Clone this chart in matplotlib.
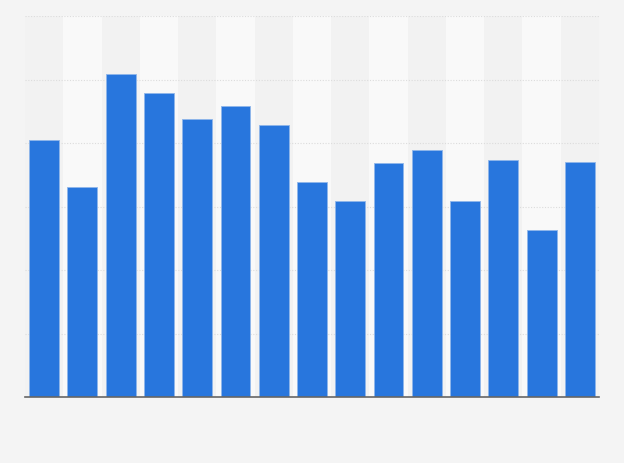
import matplotlib
matplotlib.use('Agg')
import matplotlib.pyplot as plt
import numpy as np

# bar heights (grid units, 6 gridlines)
values = [4.05, 3.31, 5.09, 4.78, 4.38, 4.58, 4.28, 3.39, 3.09, 3.69,
          3.89, 3.09, 3.73, 2.63, 3.70]
positions = np.arange(len(values))

fig = plt.figure(figsize=(6.24, 4.63), dpi=100, facecolor='#f4f4f4')
ax = fig.add_axes([25 / 624, 66 / 463, 574 / 624, 381 / 463])
ax.set_facecolor('#f4f4f4')

# alternating column bands
for i in positions:
    col = '#f2f2f2' if i % 2 == 0 else '#f9f9f9'
    ax.axvspan(i - 0.5, i + 0.5, color=col, zorder=0, lw=0)

ax.bar(positions, values, width=0.78, color='#2876dd',
       edgecolor='#8fb6ea', linewidth=0.6, zorder=3)

ax.set_xlim(-0.5, len(values) - 0.5)
ax.set_ylim(0, 6)
ax.set_yticks(np.arange(0, 7, 1))
ax.yaxis.grid(True, color='#dcdcdc', linestyle=(0, (1, 1.5)), linewidth=0.8)
ax.set_axisbelow(True)
ax.tick_params(left=False, bottom=False, labelleft=False, labelbottom=False)
for s in ['top', 'right', 'left']:
    ax.spines[s].set_visible(False)
ax.spines['bottom'].set_color('#666666')
ax.spines['bottom'].set_linewidth(1.2)
ax.spines['bottom'].set_zorder(5)

fig.savefig('out.png', dpi=100, facecolor=fig.get_facecolor())
